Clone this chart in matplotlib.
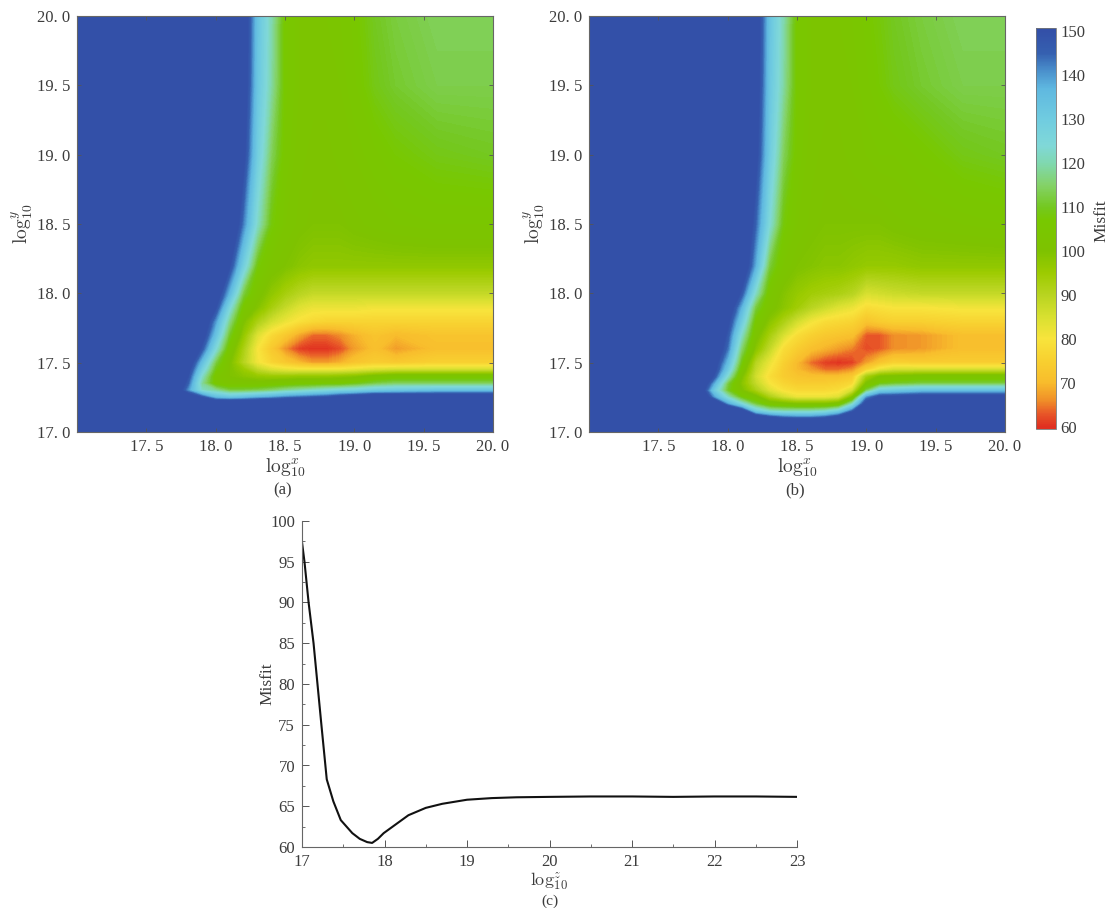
import numpy as np
import matplotlib
matplotlib.use('Agg')
import matplotlib.pyplot as plt
from matplotlib.colors import LinearSegmentedColormap, Normalize
from matplotlib.cm import ScalarMappable
from matplotlib.ticker import MultipleLocator

plt.rcParams['font.family'] = ['Liberation Serif', 'DejaVu Serif']
plt.rcParams['mathtext.fontset'] = 'cm'

W, H = 1110, 908
textCol = '#3c3c3c'

# panel (a) values (anything above 150 shows as the same blue)
xa = [17.0,17.7,17.8,17.9,18.0,18.1,18.2,18.3,18.4,18.5,18.6,18.7,18.8,18.9,19.0,19.15,19.3,19.6,20.0]
ya = [17.0,17.15,17.2,17.25,17.3,17.35,17.4,17.45,17.5,17.6,17.7,17.8,17.9,18.0,18.2,18.5,19.0,19.5,20.0]
za = [
 [200,200,200,200,200,200,200,200,200,200,200,200,200,200,200,200,200,200,200],
 [200,195,190,190,190,190,190,190,190,190,190,190,190,190,190,195,195,195,195],
 [200,190,180,170,165,165,166,167,168,170,172,174,176,178,180,185,185,185,185],
 [200,175,160,148,135,132,134,137,139,142,144,146,148,152,155,160,160,160,160],
 [200,160,140,122,118,112,112,113,115,118,120,122,124,126,127,130,131,133,133],
 [200,165,145,118,105,102,102,102,103,104,105,105,106,106,108,112,114,114,114],
 [200,170,149,122,104,100,98,96,95,95,96,96,96,97,98,102,104,104,104],
 [200,175,153,128,108,100,95,88,84,82,81,81,81,81,82,84,85,85,85],
 [200,180,157,134,112,100,90,81,76,73,70,67,67,69,72,74,73,75,75],
 [200,190,167,147,124,104,92,80,73,66,61,60,60,62,67,71,67,71,71],
 [200,200,175,155,133,110,96,84,77,73,68,64,64,66,69,72,70,72,72],
 [200,200,180,160,140,117,100,92,86,82,79,77,76,76,76,76,76,76,76],
 [200,200,190,170,150,125,105,99,93,88,84,82,82,82,82,81,81,81,81],
 [200,200,200,178,157,136,112,102,97,93,90,88,88,88,88,88,88,88,88],
 [200,200,200,190,170,150,128,108,102,100,98,97,97,97,97,97,97,97,97],
 [200,200,200,200,180,163,142,122,108,103,101,100,100,100,101,102,103,104,104],
 [200,200,200,200,195,172,152,129,114,105,102,101,101,102,103,105,107,109,110],
 [200,200,200,200,200,180,156,132,119,106,103,102,102,103,105,109,111,113,113],
 [200,200,200,200,200,180,157,133,120,106,103,102,103,104,106,110,112,114,114],
]

# panel (b) values
xb = [17.0,17.8,17.9,18.0,18.1,18.2,18.3,18.4,18.5,18.6,18.7,18.8,18.9,19.0,19.1,19.2,19.4,19.7,20.0]
yb = [17.0,17.05,17.1,17.15,17.2,17.25,17.3,17.35,17.4,17.45,17.5,17.6,17.7,17.8,17.9,18.0,18.2,18.5,19.0,19.5,20.0]
zb = [
 [200,200,200,200,200,200,200,200,200,200,200,200,200,200,200,200,200,200,200],
 [200,200,200,200,195,185,180,175,175,175,178,185,195,200,200,200,200,200,200],
 [200,200,195,185,170,160,152,147,145,145,148,155,170,190,195,195,195,195,195],
 [200,195,180,170,155,130,122,120,120,120,122,128,145,170,185,185,185,185,185],
 [200,185,165,140,125,112,104,102,100,100,100,103,122,155,170,172,172,172,172],
 [200,165,140,122,108,102,92,86,82,82,82,84,100,140,152,152,155,155,155],
 [200,158,130,110,100,92,84,79,77,77,77,78,85,112,128,130,133,133,133],
 [200,162,138,112,98,88,80,76,74,74,74,75,77,100,108,110,112,112,112],
 [200,168,148,122,100,86,78,74,72,71,71,71,73,92,100,101,103,103,103],
 [200,172,153,130,104,88,80,74,70,67,64,64,66,75,82,85,85,85,85],
 [200,175,155,135,108,90,82,75,70,64,61,60,61,67,72,75,74,74,74],
 [200,180,160,143,115,98,88,78,74,71,69,67,65,62,63,66,67,71,71],
 [200,185,165,147,122,102,93,85,78,75,73,72,71,63,63,66,67,71,71],
 [200,190,172,152,130,106,98,92,86,81,78,77,76,72,74,75,75,76,76],
 [200,200,178,158,137,112,102,98,94,90,87,84,82,78,79,80,80,81,81],
 [200,200,190,167,147,122,104,99,96,94,93,92,90,85,86,87,88,88,88],
 [200,200,200,180,160,138,112,103,100,99,98,98,97,96,96,96,97,97,97],
 [200,200,200,185,165,145,124,108,103,101,100,100,100,100,100,101,102,103,104],
 [200,200,200,200,175,153,130,114,105,102,101,101,102,103,104,104,106,109,110],
 [200,200,200,200,179,156,132,119,106,103,102,102,103,105,107,109,111,113,113],
 [200,200,200,200,180,157,133,120,106,103,102,103,104,106,108,110,112,114,114],
]

# panel (c) curve
xc = [17.0,17.03,17.08,17.14,17.235,17.3,17.38,17.47,17.61,17.7,17.79,17.85,17.92,17.99,18.14,18.29,18.5,18.7,19.0,19.3,19.6,20.0,20.5,21.0,21.5,22.0,22.5,23.0]
yc = [97.4,95.0,90.0,85.0,75.0,68.3,65.6,63.3,61.7,61.0,60.6,60.5,61.0,61.7,62.8,63.9,64.8,65.3,65.8,66.0,66.1,66.15,66.2,66.2,66.15,66.2,66.2,66.15]

xticks_heat = [17.5, 18.0, 18.5, 19.0, 19.5, 20.0]
xlabels_heat = ['17. 5', '18. 0', '18. 5', '19. 0', '19. 5', '20. 0']
yticks_heat = [17.0, 17.5, 18.0, 18.5, 19.0, 19.5, 20.0]
ylabels_heat = ['17. 0', '17. 5', '18. 0', '18. 5', '19. 0', '19. 5', '20. 0']
cbar_ticks = [60, 70, 80, 90, 100, 110, 120, 130, 140, 150]

# colorbar stops: value, colour
stops = [(60,'#e03020'),(63,'#e85828'),(66,'#f09028'),(70,'#f8bc2c'),(75,'#f8d030'),(80,'#f8e43c'),
         (85,'#d8e030'),(90,'#b8d420'),(95,'#9ccb00'),(100,'#7ec200'),(107,'#78c800'),(110,'#74c820'),
         (115,'#84d268'),(120,'#80d8b0'),(124,'#80d8d8'),(130,'#70cce0'),(137,'#5fb8e0'),(141,'#4a90cc'),
         (145,'#3560b0'),(150,'#3350a8')]
norm = Normalize(59.5, 150.7)
cmap = LinearSegmentedColormap.from_list('misfit', [(0.0, '#e03020')] + [(norm(v), c) for v, c in stops] + [(1.0, '#3350a8')], N=512)
levels = np.arange(59.5, 151, 0.5)


def add_ax(l, t, r, b):
    return plt.gcf().add_axes([l / W, 1 - b / H, (r - l) / W, (b - t) / H])


def heat(ax, x, y, z):
    ax.contourf(x, y, np.array(z), levels=levels, cmap=cmap, norm=norm, extend='both', antialiased=False)
    ax.set_xlim(17, 20)
    ax.set_ylim(17, 20)
    ax.set_xticks(xticks_heat)
    ax.set_xticklabels(xlabels_heat)
    ax.set_yticks(yticks_heat)
    ax.set_yticklabels(ylabels_heat)
    ax.tick_params(direction='in', top=True, right=True, length=3, width=0.6, color='#555555',
                   labelsize=12, labelcolor=textCol, pad=5)
    for s in ax.spines.values():
        s.set_linewidth(0.8)
        s.set_color('#666666')
    ax.set_xlabel(r'$\log_{10}^{x}$', fontsize=14, color=textCol, labelpad=1)
    ax.set_ylabel(r'$\log_{10}^{y}$', fontsize=14, color=textCol, labelpad=1)


fig = plt.figure(figsize=(W / 100, H / 100), dpi=100)

ax1 = add_ax(77, 16, 493, 432)
heat(ax1, xa, ya, za)
ax2 = add_ax(589, 16, 1005, 432)
heat(ax2, xb, yb, zb)

cax = add_ax(1036, 28, 1056, 429)
cb = fig.colorbar(ScalarMappable(norm=norm, cmap=cmap), cax=cax, ticks=cbar_ticks)
cb.ax.tick_params(length=0, labelsize=12, labelcolor=textCol, pad=3)
cb.outline.set_linewidth(0.6)
cb.outline.set_edgecolor('#777777')
fig.text(1101 / W, 1 - 221 / H, 'Misfit', rotation=90, fontsize=12.5, color=textCol, ha='center', va='center')

ax3 = add_ax(302, 521, 797, 847)
ax3.plot(xc, yc, color='#111111', lw=1.5)
ax3.set_xlim(17, 23)
ax3.set_ylim(60, 100)
ax3.set_xticks(range(17, 24))
ax3.set_yticks(range(60, 101, 5))
ax3.xaxis.set_minor_locator(MultipleLocator(0.5))
ax3.yaxis.set_minor_locator(MultipleLocator(2.5))
ax3.tick_params(which='major', direction='in', length=5, width=0.7, color='#555555', labelsize=12, labelcolor=textCol, pad=5)
ax3.tick_params(which='minor', direction='in', length=2.5, width=0.6, color='#555555')
ax3.spines['top'].set_visible(False)
ax3.spines['right'].set_visible(False)
ax3.spines['left'].set_color('#666666')
ax3.spines['bottom'].set_color('#666666')
ax3.set_xlabel(r'$\log_{10}^{z}$', fontsize=13, color=textCol, labelpad=0)
ax3.set_ylabel('Misfit', fontsize=12.5, color=textCol, labelpad=-4)

fig.text(283 / W, 1 - 490 / H, '(a)', fontsize=12, color=textCol, ha='center', va='center')
fig.text(795 / W, 1 - 490 / H, '(b)', fontsize=12, color=textCol, ha='center', va='center')
fig.text(550 / W, 1 - 901 / H, '(c)', fontsize=11, color=textCol, ha='center', va='center')

fig.savefig('out.png', dpi=100)
